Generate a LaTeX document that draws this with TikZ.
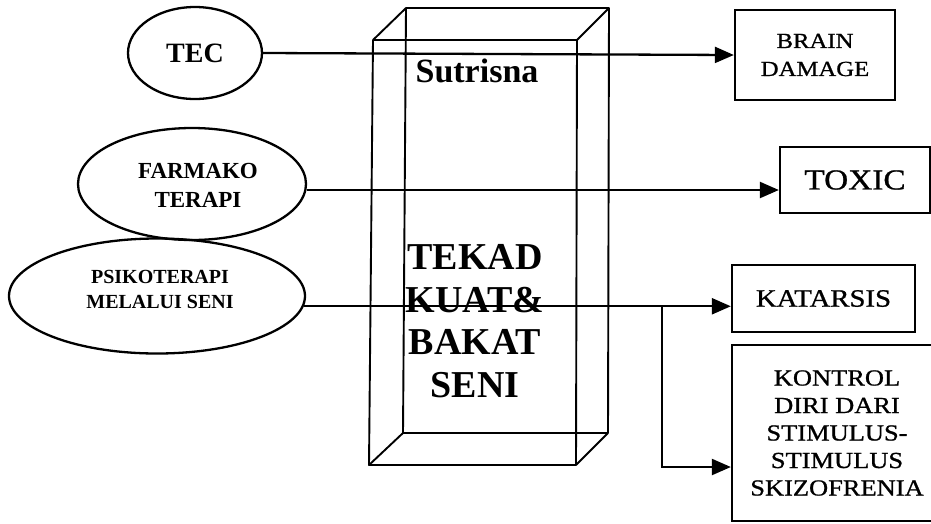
\documentclass[tikz,border=0pt]{standalone}
\usepackage{fontspec}
\setmainfont{Liberation Serif}
\newfontfamily\lblfont{Liberation Serif}[FakeStretch=1.15,FakeBold=0.9]
\usetikzlibrary{arrows.meta,shapes.geometric}

\begin{document}
\begin{tikzpicture}[x=1pt,y=-1pt,
  line width=2.3pt,
  every node/.style={inner sep=0pt, align=center},
  oval/.style={draw, ellipse, inner sep=0pt},
  outbox/.style={draw, rectangle},
  conn/.style={-{Triangle[length=19pt,width=16pt]}},
  prismline/.style={line width=1.9pt, line join=round},
]
\clip (0,0) rectangle (931,523);
\fill[white] (0,0) rectangle (931,523);

% wireframe prism: front face, back face and the four depth edges
\coordinate (f1) at (373,40);
\coordinate (f2) at (577,40);
\coordinate (f3) at (576,465);
\coordinate (f4) at (369,465);
\coordinate (b1) at (406,8);
\coordinate (b2) at (609,8);
\coordinate (b3) at (608,433);
\coordinate (b4) at (403,433);
\draw[prismline] (f1) -- (f2) -- (f3) -- (f4) -- cycle;
\draw[prismline] (b1) -- (b2) -- (b3) -- (b4) -- cycle;
\draw[prismline] (f1) -- (b1) (f2) -- (b2) (f3) -- (b3) (f4) -- (b4);

\node[font=\bfseries\fontsize{34}{40}\selectfont, anchor=base] (sut) at (477,82) {Sutrisna};
\node[font=\bfseries\fontsize{38}{42.5}\selectfont] (tekad) at (475,321) {TEKAD\\KUAT\&\\BAKAT\\SENI};

% therapies on the left
\node[oval, minimum width=134pt, minimum height=92pt,
      font=\bfseries\fontsize{28}{30}\selectfont] (tec) at (195,53) {TEC};
\node[oval, minimum width=228pt, minimum height=112pt] (farm) at (192,184) {};
\node[font=\bfseries\fontsize{23}{29}\selectfont] (farmtxt) at (198,185) {FARMAKO\\TERAPI};
\node[oval, minimum width=296pt, minimum height=115pt] (psi) at (157,296) {};
\node[font=\bfseries\fontsize{20}{25}\selectfont] (psitxt) at (160,289) {PSIKOTERAPI\\MELALUI SENI};

% outcomes on the right
\node[outbox, minimum width=160pt, minimum height=90pt,
      font=\lblfont\fontsize{21.5}{28}\selectfont] (brain) at (815,55) {BRAIN\\DAMAGE};
\node[outbox, minimum width=150pt, minimum height=66pt,
      font=\lblfont\fontsize{29}{32}\selectfont] (toxic) at (855,180) {TOXIC};
\node[outbox, minimum width=183pt, minimum height=67pt,
      font=\lblfont\fontsize{25}{30}\selectfont] (kat) at (823.5,298.5) {KATARSIS};
\node[outbox, minimum width=210pt, minimum height=176pt,
      font=\lblfont\fontsize{23}{27.5}\selectfont] (kon) at (837,433)
      {KONTROL\\DIRI DARI\\STIMULUS-\\STIMULUS\\SKIZOFRENIA};

% connectors
\draw[conn] (tec.east) -- (brain.west);
\draw[conn] (farm.-3) -- (farm.-3 -| toxic.west);
\draw[conn] (psi.-4.7) -- (psi.-4.7 -| kat.west);
\path (psi.-4.7 -| kat.west) ++(-69,0) coordinate (fork);
\draw[conn] (fork) |- ([yshift=-34pt]kon.west);
\end{tikzpicture}
\end{document}
